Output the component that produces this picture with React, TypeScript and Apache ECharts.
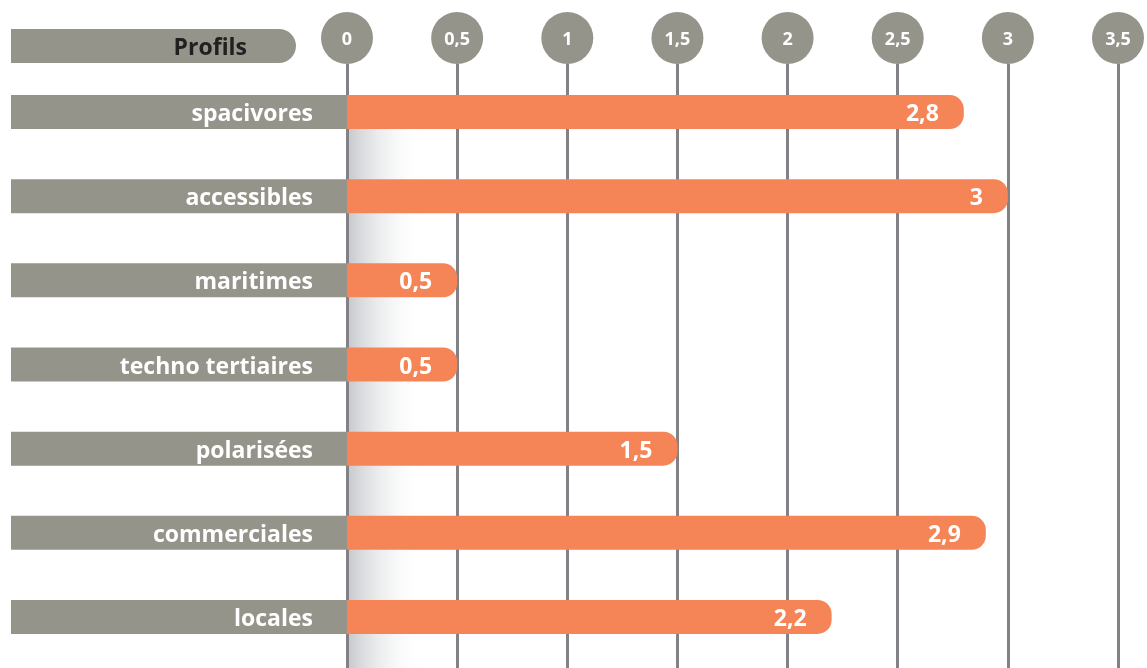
import React, { useEffect, useRef } from "react";
import * as echarts from "echarts";

const categories = [
  "spacivores",
  "accessibles",
  "maritimes",
  "techno tertiaires",
  "polarisées",
  "commerciales",
  "locales",
];
const values = [2.8, 3, 0.5, 0.5, 1.5, 2.9, 2.2];
const axisMin = 0;
const axisMax = 3.5;
const axisStep = 0.5;
const headerLabel = "Profils";

const GREY = "#95948b";
const ORANGE = "#f58557";
const LINE = "#828186";
const FONT = "'Open Sans', sans-serif";

const fmt = (v: number) => String(v).replace(".", ",");

export default function App() {
  const ref = useRef<HTMLDivElement>(null);
  useEffect(() => {
    if (!ref.current) return;
    const chart = echarts.init(ref.current, undefined, { renderer: "svg" });
    chart.setOption({
      animation: false,
      textStyle: { fontFamily: FONT },
      grid: [
        { left: 347, right: 29, top: 70, bottom: 9 },
        { left: 347, right: 29, top: 64, bottom: 0 },
      ],
      xAxis: [
        { type: "value", gridIndex: 0, min: axisMin, max: axisMax, interval: axisStep, show: false },
        {
          type: "value",
          gridIndex: 1,
          position: "top",
          min: axisMin,
          max: axisMax,
          interval: axisStep,
          axisLine: { show: false },
          axisTick: { show: false },
          splitLine: { show: true, showMinLine: true, showMaxLine: true, lineStyle: { color: LINE, width: 3 } },
          axisLabel: {
            show: true,
            showMinLabel: true,
            showMaxLabel: true,
            margin: 0,
            formatter: (v: number) => fmt(v),
            color: "#ffffff",
            fontWeight: "bold",
            fontSize: 18,
            fontFamily: FONT,
            backgroundColor: GREY,
            width: 52,
            height: 52,
            lineHeight: 52,
            borderRadius: 26,
            align: "center",
          },
        },
      ],
      yAxis: [
        {
          type: "category",
          gridIndex: 0,
          inverse: true,
          data: categories,
          axisLine: { show: false },
          axisTick: { show: false },
          axisLabel: {
            margin: 0,
            color: "#ffffff",
            fontWeight: "bold",
            fontSize: 23,
            fontFamily: FONT,
            backgroundColor: GREY,
            width: 302,
            height: 34,
            lineHeight: 34,
            padding: [0, 34, 0, 0],
            align: "right",
          },
        },
        { type: "value", gridIndex: 1, show: false },
      ],
      graphic: [
        {
          type: "rect",
          z: 0,
          shape: { x: 349, y: 129, width: 75, height: 539 },
          style: {
            fill: new echarts.graphic.LinearGradient(0, 0, 1, 0, [
              { offset: 0, color: "rgba(195,197,202,0.9)" },
              { offset: 1, color: "rgba(255,255,255,0)" },
            ]),
          },
        },
        {
          type: "rect",
          shape: { x: 11, y: 29, width: 285, height: 34, r: [0, 17, 17, 0] },
          style: { fill: GREY },
        },
        {
          type: "text",
          x: 247,
          y: 46,
          style: {
            text: headerLabel,
            fill: "#231f20",
            font: `bold 23px ${FONT}`,
            textAlign: "right",
            textVerticalAlign: "middle",
          },
        },
      ],
      series: [
        {
          type: "bar",
          xAxisIndex: 0,
          yAxisIndex: 0,
          data: values,
          barWidth: 34,
          z: 3,
          itemStyle: { color: ORANGE, borderRadius: [0, 14, 14, 0] },
          label: {
            show: true,
            position: "insideRight",
            distance: 25,
            color: "#ffffff",
            fontWeight: "bold",
            fontSize: 23,
            fontFamily: FONT,
            formatter: (p: any) => fmt(p.value),
          },
        },
      ],
    });
    return () => chart.dispose();
  }, []);
  return <div ref={ref} style={{ position: "fixed", left: 0, top: 0, width: 1147, height: 668 }} />;
}
